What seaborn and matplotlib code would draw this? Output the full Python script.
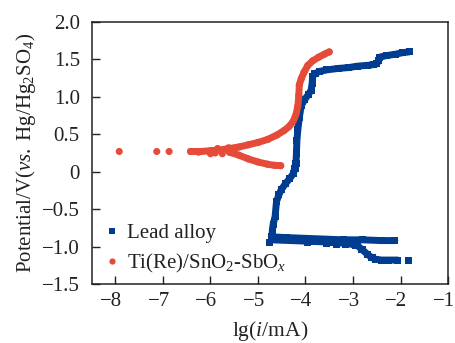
import numpy as np
import pandas as pd
import matplotlib
matplotlib.use("Agg")
import matplotlib.pyplot as plt
import matplotlib.transforms as mtransforms
from matplotlib.lines import Line2D
import seaborn as sns

# ---------------- data ----------------
series_names = ["Lead alloy", "Ti(Re)/SnO$_2$-SbO$_x$"]

# Lead alloy: anodic branch (from corrosion potential upward)
lead_anodic_x = [-4.70, -4.70, -4.68, -4.64, -4.61, -4.56, -4.51, -4.42, -4.33, -4.26, -4.22, -4.20,
                 -4.19, -4.18, -4.16, -4.13, -4.09, -4.02, -3.94, -3.88, -3.86, -3.85, -3.80, -3.70,
                 -3.55, -3.30, -3.10, -2.90, -2.70, -2.57, -2.50, -2.47, -2.44, -2.30, -2.10, -1.95, -1.82]
lead_anodic_y = [-0.88, -0.80, -0.70, -0.60, -0.40, -0.31, -0.24, -0.16, -0.09, -0.03, 0.04, 0.11,
                 0.25, 0.42, 0.56, 0.72, 0.88, 0.96, 1.03, 1.09, 1.18, 1.27, 1.31, 1.34,
                 1.36, 1.38, 1.39, 1.41, 1.42, 1.43, 1.44, 1.48, 1.53, 1.55, 1.57, 1.59, 1.60]
# Lead alloy: cathodic branch, upper line
lead_cat1_x = [-4.72, -4.40, -4.00, -3.60, -3.20, -2.80, -2.40, -2.12]
lead_cat1_y = [-0.87, -0.88, -0.89, -0.90, -0.91, -0.91, -0.92, -0.92]
# Lead alloy: cathodic branch, lower line
lead_cat2_x = [-4.72, -4.30, -3.90, -3.50, -3.10, -2.90, -2.81, -2.70, -2.60, -2.52, -2.40, -2.25, -2.06]
lead_cat2_y = [-0.91, -0.92, -0.93, -0.94, -0.96, -0.99, -1.04, -1.10, -1.15, -1.17, -1.18, -1.18, -1.18]
# Lead alloy: scattered single points
lead_pts_x = [-1.84, -4.75, -3.95, -3.55, -3.35, -3.15, -2.95]
lead_pts_y = [-1.18, -0.94, -0.95, -0.96, -0.97, -0.97, -0.98]

# Ti(Re)/SnO2-SbOx: upper (anodic) branch
ti_upper_x = [-6.42, -6.20, -6.00, -5.80, -5.60, -5.40, -5.20, -5.00, -4.80, -4.60, -4.45, -4.35,
              -4.26, -4.20, -4.16, -4.14, -4.13, -4.09, -4.03, -3.95, -3.85, -3.72, -3.60, -3.50]
ti_upper_y = [0.27, 0.27, 0.28, 0.29, 0.31, 0.33, 0.36, 0.39, 0.43, 0.49, 0.55, 0.60,
              0.67, 0.76, 0.88, 1.02, 1.16, 1.24, 1.33, 1.42, 1.48, 1.53, 1.57, 1.60]
# Ti(Re)/SnO2-SbOx: lower (cathodic) branch
ti_lower_x = [-5.60, -5.40, -5.20, -5.00, -4.80, -4.65, -4.52]
ti_lower_y = [0.26, 0.22, 0.17, 0.13, 0.10, 0.085, 0.08]
# Ti(Re)/SnO2-SbOx: scattered single points
ti_pts_x = [-7.92, -7.13, -6.87, -6.00, -5.85, -5.75, -5.62, -5.50, -5.90, -6.25]
ti_pts_y = [0.27, 0.27, 0.27, 0.24, 0.31, 0.24, 0.32, 0.30, 0.25, 0.26]

# tick labels
x_ticks = [-8, -7, -6, -5, -4, -3, -2, -1]
y_ticks = [-1.5, -1.0, -0.5, 0, 0.5, 1.0, 1.5, 2.0]
y_tick_labels = ["\u22121.5", "\u22121.0", "\u22120.5", "0", "0.5", "1.0", "1.5", "2.0"]
x_tick_labels = ["\u22128", "\u22127", "\u22126", "\u22125", "\u22124", "\u22123", "\u22122", "\u22121"]

# ---------------- build tables ----------------
def seg_df(xs, ys, name, seg):
    return pd.DataFrame({"x": xs, "y": ys, "series": name, "seg": seg})

lines_df = pd.concat([
    seg_df(lead_anodic_x, lead_anodic_y, series_names[0], "L1"),
    seg_df(lead_cat1_x, lead_cat1_y, series_names[0], "L2"),
    seg_df(lead_cat2_x, lead_cat2_y, series_names[0], "L3"),
    seg_df(ti_upper_x, ti_upper_y, series_names[1], "T1"),
    seg_df(ti_lower_x, ti_lower_y, series_names[1], "T2"),
], ignore_index=True)
points_df = pd.concat([
    lines_df,
    seg_df(lead_pts_x, lead_pts_y, series_names[0], "LP"),
    seg_df(ti_pts_x, ti_pts_y, series_names[1], "TP"),
], ignore_index=True)

# ---------------- style ----------------
sns.set_theme(style="ticks")
plt.rcParams["font.family"] = ["Liberation Serif", "DejaVu Serif"]
plt.rcParams["mathtext.fontset"] = "custom"
plt.rcParams["mathtext.rm"] = "Liberation Serif"
plt.rcParams["mathtext.it"] = "Liberation Serif:italic"
plt.rcParams["mathtext.bf"] = "Liberation Serif:bold"

blue = "#003d91"
red = "#e64b3a"
ink = "#222222"
palette = {series_names[0]: blue, series_names[1]: red}

fig = plt.figure(figsize=(4.56, 3.43), dpi=100)
ax = fig.add_axes([0.2010, 0.172, 0.7815, 0.764])

sns.lineplot(data=lines_df, x="x", y="y", hue="series", units="seg", estimator=None,
             sort=False, palette=palette, linewidth=5.0, legend=False, ax=ax,
             solid_capstyle="round")
sns.scatterplot(data=points_df, x="x", y="y", hue="series", style="series",
                markers={series_names[0]: "s", series_names[1]: "o"},
                palette=palette, s=26, linewidth=0, legend=False, ax=ax)

ax.set_xlim(-8.5, -1.0)
ax.set_ylim(-1.5, 2.0)
ax.set_xticks(x_ticks)
ax.set_xticklabels(x_tick_labels)
ax.set_yticks(y_ticks)
ax.set_yticklabels(y_tick_labels)
ax.tick_params(direction="in", length=5.5, width=1.0, labelsize=15,
               colors=ink, labelcolor=ink)
ax.tick_params(axis="y", pad=8.5)
ax.tick_params(axis="x", pad=6)
for sp in ax.spines.values():
    sp.set_linewidth(1.1)
    sp.set_color(ink)

# shift x tick labels slightly left (as in the reference)
offset = mtransforms.ScaledTranslation(-4 / 100, 0, fig.dpi_scale_trans)
for lbl in ax.get_xticklabels():
    lbl.set_transform(lbl.get_transform() + offset)

ax.set_xlabel("lg($i$/mA)", fontsize=15.5, color=ink, labelpad=5.5)
ax.set_ylabel("Potential/V($vs.$ Hg/Hg$_2$SO$_4$)", fontsize=15, color=ink, labelpad=3)

handles = [
    Line2D([], [], linestyle="none", marker="s", markersize=4.5, color=blue, markeredgewidth=0),
    Line2D([], [], linestyle="none", marker="o", markersize=4.5, color=red, markeredgewidth=0),
]
ax.legend(handles, series_names, loc="lower left", bbox_to_anchor=(-0.01, -0.03),
          frameon=False, fontsize=15, handlelength=0.7, handletextpad=0.35,
          labelspacing=0.42, borderpad=0.3, labelcolor=ink)

fig.savefig("out.png", dpi=100)
